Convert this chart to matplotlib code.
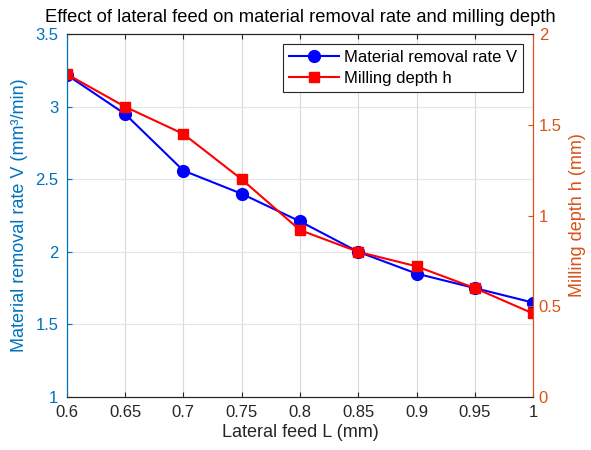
import matplotlib
matplotlib.use("Agg")
from matplotlib import pyplot as plt

plt.rcParams['font.family'] = ['Liberation Sans', 'DejaVu Sans']

feed = [0.6, 0.65, 0.7, 0.75, 0.8, 0.85, 0.9, 0.95, 1.0]
removal_rate = [3.22, 2.95, 2.56, 2.40, 2.21, 2.00, 1.85, 1.75, 1.65]
milling_depth = [1.78, 1.60, 1.45, 1.20, 0.92, 0.80, 0.72, 0.60, 0.46]
x_ticks = [0.6, 0.65, 0.7, 0.75, 0.8, 0.85, 0.9, 0.95, 1.0]
x_labels = ['0.6', '0.65', '0.7', '0.75', '0.8', '0.85', '0.9', '0.95', '1']
left_ticks = [1, 1.5, 2, 2.5, 3, 3.5]
left_labels = ['1', '1.5', '2', '2.5', '3', '3.5']
right_ticks = [0, 0.5, 1, 1.5, 2]
right_labels = ['0', '0.5', '1', '1.5', '2']

blue_axis = '#0072BD'
orange_axis = '#D95319'

fig = plt.figure(figsize=(5.91, 4.5), dpi=100)
ax = fig.add_axes([0.113, 0.118, 0.789, 0.806])
ax2 = ax.twinx()

l1, = ax.plot(feed, removal_rate, '-o', color='blue', lw=1.5, ms=8.5,
              label='Material removal rate V')
l2, = ax2.plot(feed, milling_depth, '-s', color='red', lw=1.5, ms=7.5,
               label='Milling depth h')

ax.set_xlim(0.6, 1.0)
ax.set_ylim(1, 3.5)
ax2.set_ylim(0, 2)
ax.set_xticks(x_ticks)
ax.set_xticklabels(x_labels)
ax.set_yticks(left_ticks)
ax.set_yticklabels(left_labels)
ax2.set_yticks(right_ticks)
ax2.set_yticklabels(right_labels)

ax.grid(axis='x', color='#d9d9d9', lw=0.8)
ax.grid(axis='y', color='#dce9f5', lw=0.8)
ax.set_axisbelow(True)

ax.tick_params(axis='x', direction='in', top=True, labelsize=12,
               colors='#262626', pad=6)
ax.tick_params(axis='y', direction='in', labelsize=12, colors=blue_axis, pad=6)
ax2.tick_params(axis='y', direction='in', labelsize=12, colors=orange_axis, pad=4)

for a in (ax, ax2):
    a.spines['top'].set_color('#262626')
    a.spines['bottom'].set_color('#262626')
    a.spines['left'].set_color(blue_axis)
    a.spines['right'].set_color(orange_axis)

ax.set_xlabel('Lateral feed L (mm)', fontsize=13, color='#262626', labelpad=3)
ax.set_ylabel('Material removal rate V (mm³/min)', fontsize=13,
              color=blue_axis, labelpad=5)
ax2.set_ylabel('Milling depth h (mm)', fontsize=13, color=orange_axis,
               labelpad=5)
ax.set_title('Effect of lateral feed on material removal rate and milling depth',
             fontsize=13.2, pad=9)

leg = ax2.legend(handles=[l1, l2], loc='upper right', fontsize=12,
                 fancybox=False, edgecolor='#262626', framealpha=1,
                 borderaxespad=0.6, handlelength=3.0, borderpad=0.35,
                 labelspacing=0.35, handletextpad=0.3)
leg.get_frame().set_linewidth(0.8)

fig.savefig('out.png', dpi=100)
